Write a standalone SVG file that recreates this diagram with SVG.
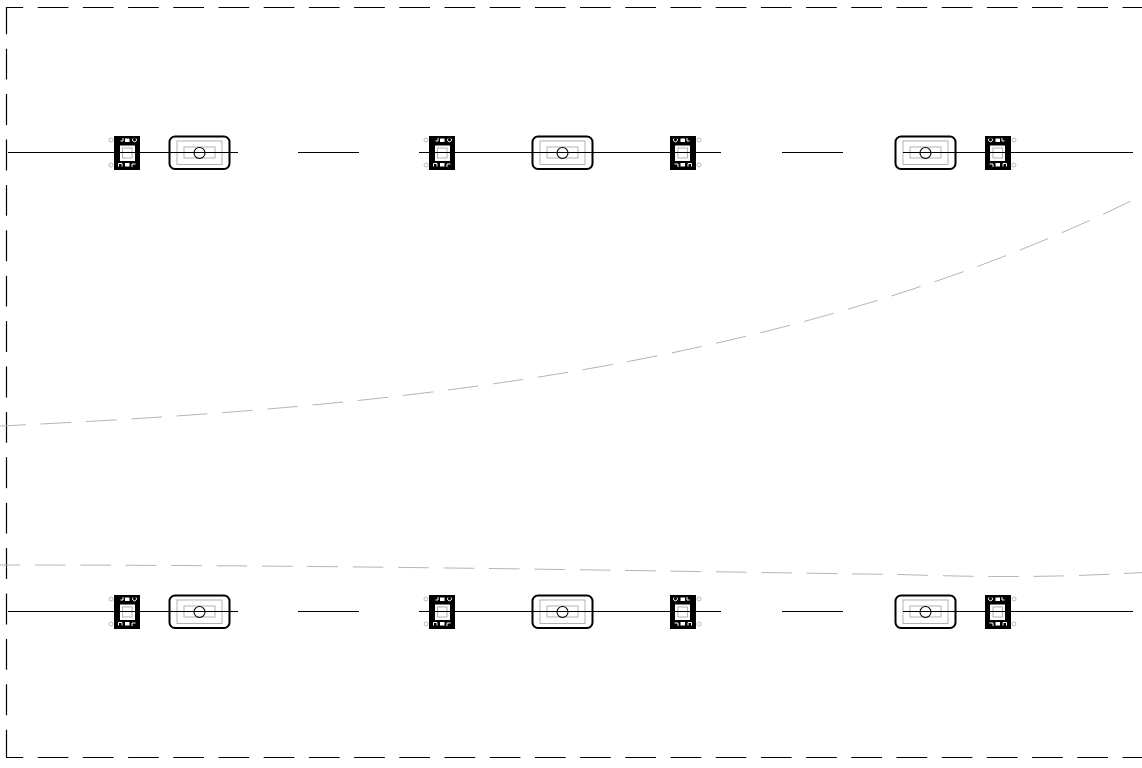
<svg xmlns="http://www.w3.org/2000/svg" width="1142" height="768" viewBox="0 0 1142 768">
<style>
.frame{fill:none;stroke:#000;stroke-width:1.2;stroke-dasharray:30.7 14.5}
.wire{fill:none;stroke:#000;stroke-width:1}
.curve{fill:none;stroke:#b5b5b5;stroke-width:1;stroke-dasharray:30.6 14.8;stroke-dashoffset:4.5}
.g{fill:none;stroke:#aaa;stroke-width:.9}
.gl{fill:none;stroke:#fff;stroke-width:1}
</style>
<defs>
<g id="sw">
<circle cx="-16" cy="-13" r="2" fill="#fff" stroke="#aaa" stroke-width=".8"/>
<circle cx="-16" cy="12" r="2" fill="#fff" stroke="#aaa" stroke-width=".8"/>
<rect x="-13" y="-17" width="26" height="34" fill="#000"/>
<rect x="-7" y="-7.500" width="15" height="15.500" fill="#fff"/>
<rect x="-4.500" y="-5" width="9.500" height="10" class="g"/>
<path d="M-4-15v3h-2.500" class="gl"/>
<rect x="-2" y="-14.500" width="4.500" height="3.500" fill="#fff"/>
<path d="M6-14.500a2 2 0 1 0 3 0" class="gl"/>
<path d="M-8.500 13.500v-3h3.500v3" class="gl"/>
<rect x="-2" y="10" width="4.500" height="3.500" fill="#fff"/>
<path d="M5 14v-3h3.500" class="gl"/>
</g>
<g id="box">
<rect x="-30" y="-16.500" width="60" height="32.500" rx="5.500" fill="#fff" stroke="#000" stroke-width="2"/>
<rect x="-22.500" y="-12" width="45" height="23.500" class="g"/>
<rect x="-15.500" y="-6" width="31" height="11" class="g"/>
<circle r="5.500" fill="none" stroke="#000" stroke-width="1.100"/>
</g>
</defs>
<g id="connectors">
<path class="frame" style="stroke-dashoffset:13.500" d="M6 7.500H1142"/>
<path class="frame" style="stroke-dashoffset:3.700;stroke-dasharray:30.9 14.5" d="M6.500 7V757"/>
<path class="frame" style="stroke-dashoffset:13.500" d="M6 757.500H1142"/>
<path class="curve" d="M0 426C380 408 780 372 1131 201"/>
<path class="curve" style="stroke-dashoffset:10.500" d="M0 565C350 565 640 571 900 574.500C990 577.500 1060 577.500 1142 572.500"/>
</g>
<g id="n1"><use href="#sw" x="127" y="153"/></g>
<g id="n2"><use href="#box" x="199.500" y="153"/></g>
<g id="n3"><use href="#sw" x="442" y="153"/></g>
<g id="n4"><use href="#box" x="562.500" y="153"/></g>
<g id="n5"><use href="#sw" transform="translate(683 153) scale(-1 1)"/></g>
<g id="n6"><use href="#box" x="925.500" y="153"/></g>
<g id="n7"><use href="#sw" transform="translate(998 153) scale(-1 1)"/></g>
<g id="n8"><use href="#sw" x="127" y="612"/></g>
<g id="n9"><use href="#box" x="199.500" y="612"/></g>
<g id="n10"><use href="#sw" x="442" y="612"/></g>
<g id="n11"><use href="#box" x="562.500" y="612"/></g>
<g id="n12"><use href="#sw" transform="translate(683 612) scale(-1 1)"/></g>
<g id="n13"><use href="#box" x="925.500" y="612"/></g>
<g id="n14"><use href="#sw" transform="translate(998 612) scale(-1 1)"/></g>
<g id="wires">
<path class="wire" d="M8 152.500H238M298 152.500H359M419 152.500H721M782 152.500H843M903 152.500H1133"/>
<path class="wire" d="M8 611.500H238M298 611.500H359M419 611.500H721M782 611.500H843M903 611.500H1133"/>
</g>
</svg>
